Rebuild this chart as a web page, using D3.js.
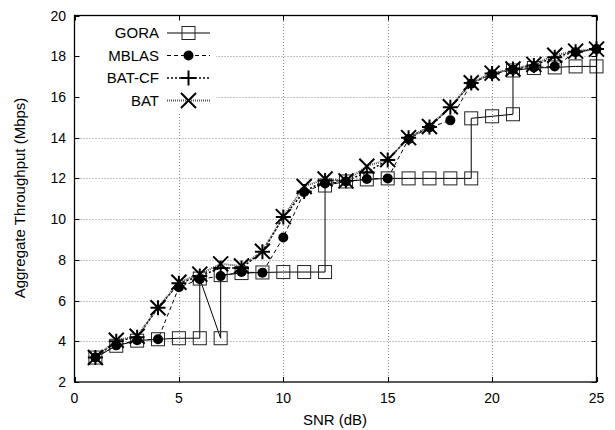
<!DOCTYPE html>
<html><head><meta charset="utf-8">
<script src="https://cdn.jsdelivr.net/npm/d3@7"></script>
<style>body{margin:0;background:#fff}svg{display:block}text{font-family:"Liberation Sans",Arial,sans-serif;fill:#000}</style>
</head><body><svg id="c" width="615" height="430"></svg>
<script>
const snr = [1,2,3,4,5,6,7,8,9,10,11,12,13,14,15,16,17,18,19,20,21,22,23,24,25];
const goraX = [1,2,3,4,5,6,6,7,7,8,9,10,11,12,12,13,14,15,16,17,18,19,19,20,21,21,22,23,24,25];
const goraY = [3.2,3.78,4.03,4.1,4.15,4.15,7.08,4.15,7.25,7.35,7.38,7.4,7.4,7.4,11.65,11.85,11.95,12.0,12.0,12.0,12.0,12.0,14.95,15.05,15.15,17.3,17.42,17.45,17.5,17.5];
const mblas = [3.2,3.8,4.05,4.1,6.65,7.05,7.2,7.4,7.37,9.1,11.33,11.75,11.85,11.97,12.0,13.93,14.5,14.85,16.65,17.12,17.33,17.45,17.5,18.2,18.35];
const batcf = [3.2,4.0,4.2,5.65,6.85,7.2,7.6,7.6,8.4,10.1,11.35,11.9,11.88,12.3,12.9,14.0,14.52,15.5,16.68,17.15,17.37,17.55,17.95,18.22,18.35];
const bat = [3.2,4.05,4.25,5.65,6.9,7.3,7.8,7.7,8.42,10.12,11.6,11.97,11.88,12.6,12.92,14.0,14.55,15.52,16.7,17.17,17.37,17.6,18.05,18.25,18.35];
const xTicks = [0,5,10,15,20,25];
const yTicks = [2,4,6,8,10,12,14,16,18,20];
const names = ["GORA","MBLAS","BAT-CF","BAT"];

const svg = d3.select("#c");
const x = d3.scaleLinear().domain([0,25]).range([74.5,596.5]);
const y = d3.scaleLinear().domain([2,20]).range([382,15.5]);

// grid
const grid = svg.append("g").attr("stroke","#888").attr("stroke-width",1).attr("stroke-dasharray","1,2");
grid.selectAll(".gx").data(xTicks.slice(1,-1)).join("line")
  .attr("x1",d=>Math.round(x(d))+0.5).attr("x2",d=>Math.round(x(d))+0.5).attr("y1",y(2)).attr("y2",y(20));
grid.selectAll(".gy").data(yTicks.slice(1,-1)).join("line")
  .attr("y1",d=>Math.round(y(d))+0.5).attr("y2",d=>Math.round(y(d))+0.5).attr("x1",x(0)).attr("x2",x(25));

// legend background
svg.append("rect").attr("x",75).attr("y",16).attr("width",141).attr("height",97).attr("fill","#fff");

// axes ticks inward on all four sides
const ax = svg.append("g").attr("stroke","#000").attr("stroke-width",1);
xTicks.forEach(t=>{
  const px = Math.round(x(t))+0.5;
  ax.append("line").attr("x1",px).attr("x2",px).attr("y1",y(2)).attr("y2",y(2)-5);
  ax.append("line").attr("x1",px).attr("x2",px).attr("y1",y(20)).attr("y2",y(20)+5);
});
yTicks.forEach(t=>{
  const py = Math.round(y(t))+0.5;
  ax.append("line").attr("y1",py).attr("y2",py).attr("x1",x(0)).attr("x2",x(0)+5);
  ax.append("line").attr("y1",py).attr("y2",py).attr("x1",x(25)).attr("x2",x(25)-5);
});

svg.append("g").selectAll("text").data(xTicks).join("text")
  .attr("x",d=>x(d)).attr("y",403).attr("text-anchor","middle").attr("font-size",14).text(d=>d);
svg.append("g").selectAll("text").data(yTicks).join("text")
  .attr("x",66).attr("y",d=>y(d)).attr("dy","0.36em").attr("text-anchor","end").attr("font-size",14).text(d=>d);
svg.append("text").attr("x",335).attr("y",425).attr("text-anchor","middle").attr("font-size",15).text("SNR (dB)");
svg.append("text").attr("transform","translate(25,198) rotate(-90)").attr("text-anchor","middle").attr("font-size",15).text("Aggregate Throughput (Mbps)");

const styles = [
  {stroke:"#000", w:1, dash:null},
  {stroke:"#000", w:1, dash:"4,3"},
  {stroke:"#000", w:1.6, dash:"2,2"},
  {stroke:"#555", w:2, dash:"1,1"}
];
const line = d3.line().x(d=>x(d[0])).y(d=>y(d[1]));
const seriesData = [
  goraX.map((v,i)=>[v,goraY[i]]),
  snr.map((v,i)=>[v,mblas[i]]),
  snr.map((v,i)=>[v,batcf[i]]),
  snr.map((v,i)=>[v,bat[i]])
];
const plot = svg.append("g");
seriesData.forEach((d,i)=>{
  plot.append("path").datum(d).attr("d",line).attr("fill","none")
    .attr("stroke",styles[i].stroke).attr("stroke-width",styles[i].w)
    .attr("stroke-dasharray",styles[i].dash);
});

function marker(g,i,cx,cy){
  if(i===0){g.append("rect").attr("x",cx-6.5).attr("y",cy-6.5).attr("width",13).attr("height",13).attr("fill","none").attr("stroke","#222").attr("stroke-width",1);}
  else if(i===1){g.append("circle").attr("cx",cx).attr("cy",cy).attr("r",5).attr("fill","#000");}
  else if(i===2){g.append("path").attr("d",`M${cx-7.5},${cy}H${cx+7.5}M${cx},${cy-7.5}V${cy+7.5}`).attr("stroke","#000").attr("stroke-width",2);}
  else {g.append("path").attr("d",`M${cx-7.5},${cy-7.5}L${cx+7.5},${cy+7.5}M${cx-7.5},${cy+7.5}L${cx+7.5},${cy-7.5}`).attr("stroke","#000").attr("stroke-width",2);}
}
seriesData.forEach((d,i)=>{
  const g = plot.append("g");
  d.forEach(p=>marker(g,i,x(p[0]),y(p[1])));
});

// frame
svg.append("rect").attr("x",x(0)).attr("y",y(20)).attr("width",x(25)-x(0)).attr("height",y(2)-y(20))
  .attr("fill","none").attr("stroke","#000").attr("stroke-width",1.3);

// legend
const ly = [33,55.5,78,100.5];
const lg = svg.append("g");
names.forEach((n,i)=>{
  lg.append("text").attr("x",159).attr("y",ly[i]).attr("dy","0.36em").attr("text-anchor","end").attr("font-size",15).text(n);
  lg.append("line").attr("x1",167).attr("x2",210).attr("y1",ly[i]).attr("y2",ly[i])
    .attr("stroke",styles[i].stroke).attr("stroke-width",styles[i].w).attr("stroke-dasharray",styles[i].dash);
  marker(lg,i,188.5,ly[i]);
});
</script></body></html>
